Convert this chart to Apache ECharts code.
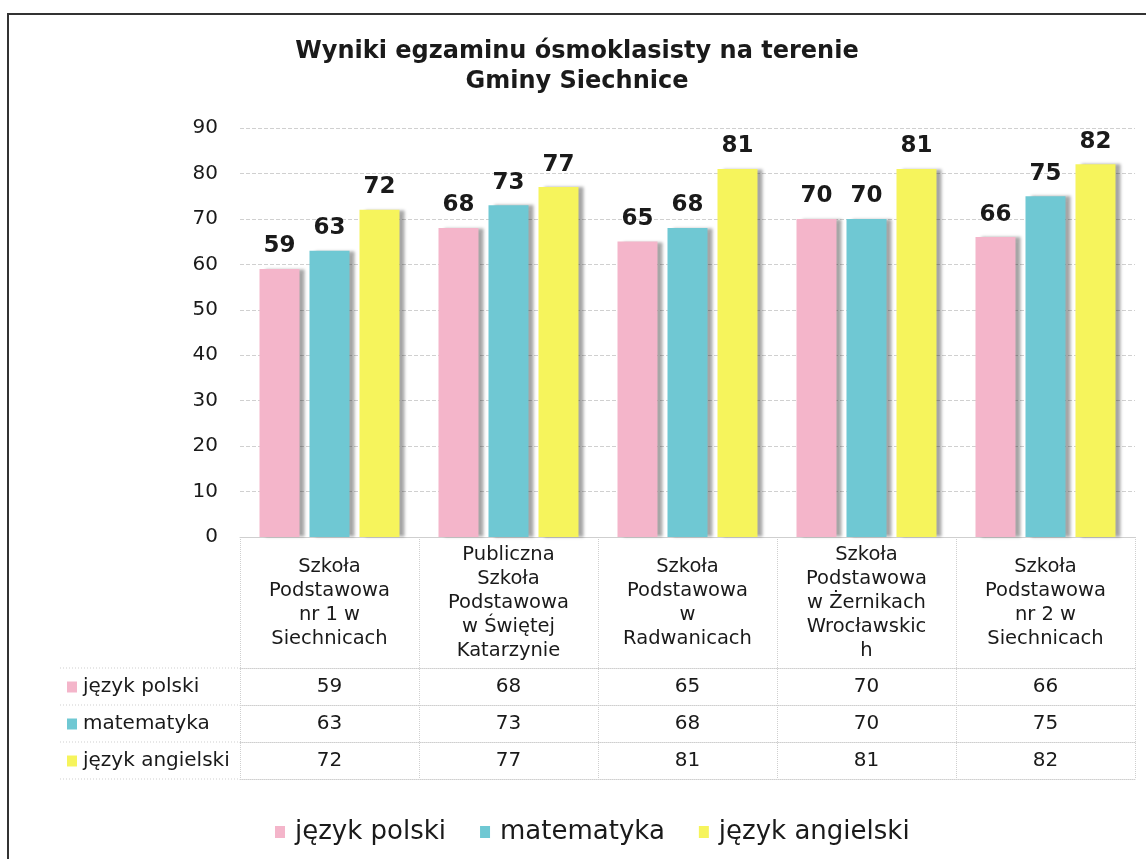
<!DOCTYPE html>
<html>
<head>
<meta charset="utf-8">
<script src="https://cdn.jsdelivr.net/npm/echarts@6/dist/echarts.min.js"></script>
<style>
  html, body { margin: 0; padding: 0; background: #fff; }
  #chart { width: 1146px; height: 859px; }
</style>
</head>
<body>
<div id="chart"></div>
<script>
const schools = [
  "Szkoła\nPodstawowa\nnr 1 w\nSiechnicach",
  "Publiczna\nSzkoła\nPodstawowa\nw Świętej\nKatarzynie",
  "Szkoła\nPodstawowa\nw\nRadwanicach",
  "Szkoła\nPodstawowa\nw Żernikach\nWrocławskic\nh",
  "Szkoła\nPodstawowa\nnr 2 w\nSiechnicach"
];
const seriesNames = ["język polski", "matematyka", "język angielski"];
const polski = [59, 68, 65, 70, 66];
const matematyka = [63, 73, 68, 70, 75];
const angielski = [72, 77, 81, 81, 82];
const yTicks = [0, 10, 20, 30, 40, 50, 60, 70, 80, 90];

const COLORS = ["#f4b5ca", "#6fc8d3", "#f6f45c"];
const FONT = "DejaVu Sans, Verdana, sans-serif";
const TEXT = "#1a1a1a";
const TABLE_LINE = "#cfcfcf";

// layout of the plot / table
const GRID = { left: 240, right: 11, top: 128, bottom: 322 };
const BASE_Y = 859 - GRID.bottom;            // y of the zero line
const HEADER_H = 131;                        // height of the category header row
const ROW_H = 37;                            // height of each value row
const ROWS = [polski, matematyka, angielski];

const chart = echarts.init(document.getElementById("chart"));

const rowAxes = ROWS.map((vals, r) => ({
  type: "category",
  data: schools,
  position: "bottom",
  offset: HEADER_H + r * ROW_H,
  axisLine: { show: true, lineStyle: { color: TABLE_LINE, type: "dotted", width: 1 } },
  axisTick: { show: false },
  axisLabel: {
    interval: 0,
    margin: ROW_H / 2,
    verticalAlign: "middle",
    fontFamily: FONT,
    fontSize: 20,
    color: TEXT,
    formatter: (v, i) => String(vals[i])
  },
  splitLine: { show: false }
}));

// bottom border of the table
rowAxes.push({
  type: "category",
  data: schools,
  position: "bottom",
  offset: HEADER_H + ROWS.length * ROW_H,
  axisLine: { show: true, lineStyle: { color: TABLE_LINE, type: "dotted", width: 1 } },
  axisTick: { show: false },
  axisLabel: { show: false },
  splitLine: { show: false }
});

const graphics = [
  {
    type: "rect",
    shape: { x: 8, y: 14, width: 1160, height: 900 },
    style: { fill: "none", stroke: "#333", lineWidth: 2 },
    silent: true
  },
  {
    type: "text",
    x: 577,
    y: 37,
    style: {
      text: "Wyniki egzaminu ósmoklasisty na terenie\nGminy Siechnice",
      fontFamily: FONT,
      fontWeight: "bold",
      fontSize: 24,
      lineHeight: 30,
      fill: TEXT,
      align: "center",
      verticalAlign: "top"
    }
  }
];

// left part of the table: row labels and their lines
for (let r = 0; r <= ROWS.length; r++) {
  const y = BASE_Y + HEADER_H + r * ROW_H;
  graphics.push({
    type: "line",
    shape: { x1: 60, y1: y, x2: GRID.left, y2: y },
    style: { stroke: TABLE_LINE, lineDash: [1, 2], lineWidth: 1 },
    silent: true
  });
}
seriesNames.forEach((name, r) => {
  const cy = BASE_Y + HEADER_H + r * ROW_H + ROW_H / 2;
  graphics.push({
    type: "rect",
    shape: { x: 67, y: cy - 5, width: 10, height: 11 },
    style: { fill: COLORS[r] },
    silent: true
  });
  graphics.push({
    type: "text",
    x: 83,
    y: cy,
    style: {
      text: name,
      fontFamily: FONT,
      fontSize: 20,
      fill: TEXT,
      verticalAlign: "middle"
    },
    silent: true
  });
});

const barSeries = [polski, matematyka, angielski].map((vals, i) => ({
  name: seriesNames[i],
  type: "bar",
  data: vals,
  barWidth: 40,
  barGap: "25%",
  itemStyle: {
    color: COLORS[i],
    shadowColor: "rgba(0,0,0,0.35)",
    shadowBlur: 3,
    shadowOffsetX: 5,
    shadowOffsetY: 0
  },
  label: {
    show: true,
    position: "top",
    distance: 11,
    fontFamily: FONT,
    fontWeight: "bold",
    fontSize: 23,
    color: TEXT
  }
}));

chart.setOption({
  animation: false,
  backgroundColor: "#fff",
  color: COLORS,
  grid: GRID,
  legend: {
    top: 814,
    left: 270,
    icon: "rect",
    itemWidth: 10,
    itemHeight: 12,
    itemGap: 34,
    textStyle: { fontFamily: FONT, fontSize: 26, color: TEXT, padding: [0, 0, 0, 5] },
    data: seriesNames
  },
  xAxis: [
    {
      type: "category",
      data: schools,
      axisLine: { show: true, lineStyle: { color: TABLE_LINE, width: 1 } },
      axisTick: { show: true, interval: 0, length: HEADER_H + ROWS.length * ROW_H, lineStyle: { color: TABLE_LINE, type: "dotted" } },
      axisLabel: {
        interval: 0,
        margin: HEADER_H / 2,
        verticalAlign: "middle",
        fontFamily: FONT,
        fontSize: 19.5,
        lineHeight: 24,
        color: TEXT
      }
    },
    ...rowAxes
  ],
  yAxis: {
    type: "value",
    min: yTicks[0],
    max: yTicks[yTicks.length - 1],
    interval: 10,
    axisLine: { show: false },
    axisTick: { show: false },
    axisLabel: { margin: 22, fontFamily: FONT, fontSize: 20, color: TEXT },
    splitLine: { lineStyle: { color: "#d0d0d0", type: "dashed", width: 1 } }
  },
  graphic: graphics,
  series: barSeries
});
</script>
</body>
</html>
